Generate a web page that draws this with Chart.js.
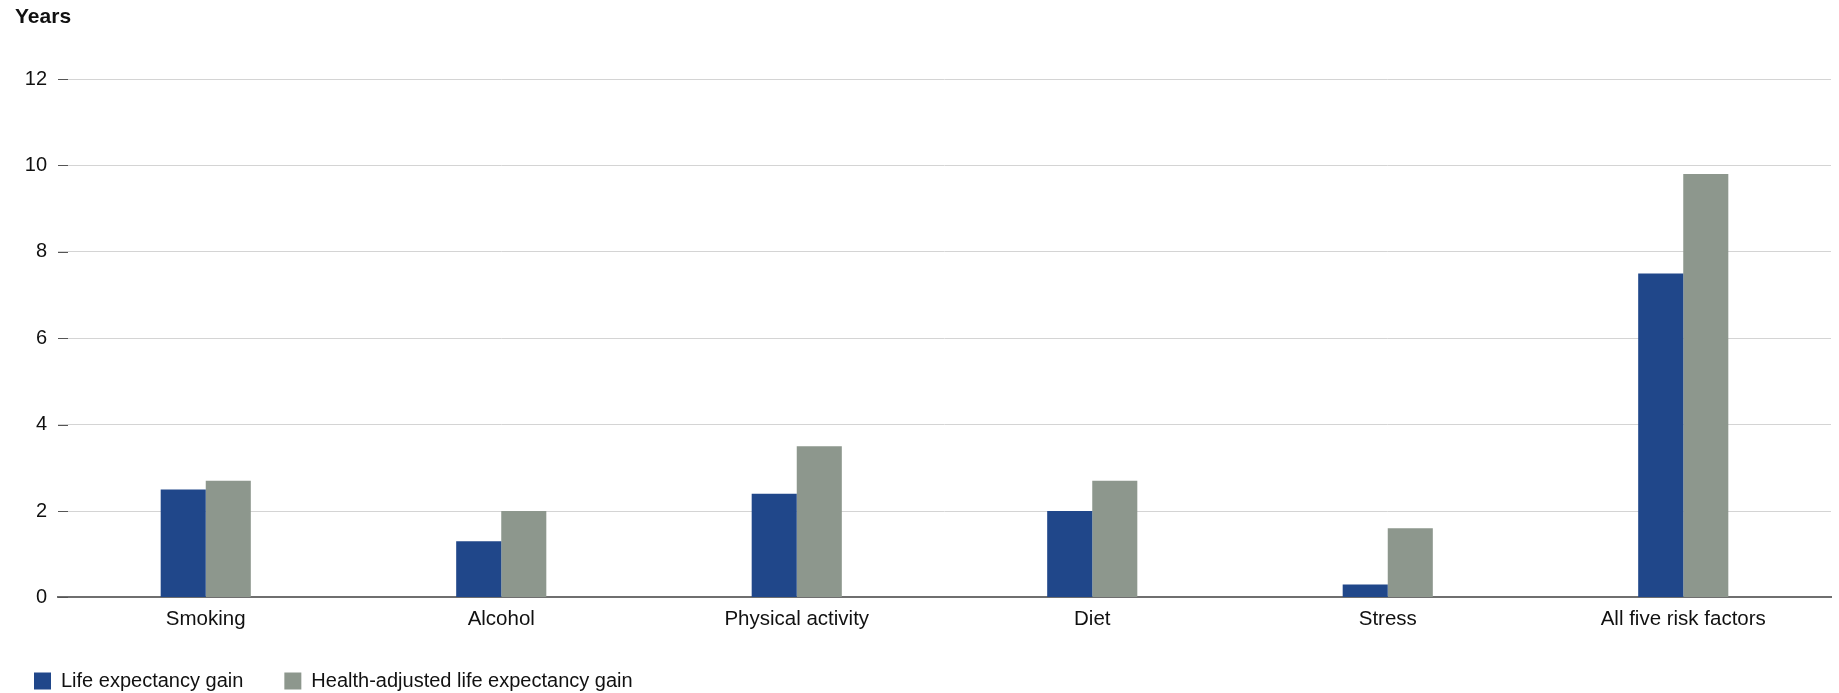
<!DOCTYPE html>
<html lang="en">
<head>
    <meta charset="UTF-8">
    <title>Life expectancy gain by risk factor</title>
    <script src="https://cdn.jsdelivr.net/npm/chart.js"></script>
    <style>
        body { margin: 0; background: #fff; }
        #wrap { width: 1839px; height: 693px; position: relative; }
    </style>
</head>
<body>
<div id="wrap"><canvas id="chart"></canvas></div>

<script>
    const categories = ['Smoking', 'Alcohol', 'Physical activity', 'Diet', 'Stress', 'All five risk factors'];
    const lifeGain = [2.5, 1.3, 2.4, 2.0, 0.3, 7.5];
    const healthAdjustedGain = [2.7, 2.0, 3.5, 2.7, 1.6, 9.8];
    const yTicks = [0, 2, 4, 6, 8, 10, 12];
    const yUnit = 'Years';

    const FONT = '"Liberation Sans", Arial, Helvetica, sans-serif';

    // "Years" above the y axis + short dark dashes at the start of each gridline
    const axisExtras = {
        id: 'axisExtras',
        afterDraw(chart) {
            const ctx = chart.ctx;
            const y = chart.scales.y;
            const left = chart.chartArea.left;
            ctx.save();
            ctx.strokeStyle = '#555';
            ctx.lineWidth = 1;
            yTicks.forEach(v => {
                const py = Math.round(y.getPixelForValue(v)) + 0.5;
                ctx.beginPath();
                ctx.moveTo(left, py);
                ctx.lineTo(left + 10, py);
                ctx.stroke();
            });
            ctx.fillStyle = '#111';
            ctx.font = 'bold 21px ' + FONT;
            ctx.textBaseline = 'top';
            ctx.textAlign = 'left';
            ctx.fillText(yUnit, 15, 7);
            ctx.restore();
        }
    };

    new Chart(document.getElementById('chart'), {
        type: 'bar',
        data: {
            labels: categories,
            datasets: [{
                label: 'Life expectancy gain',
                data: lifeGain,
                backgroundColor: '#20478a',
                categoryPercentage: 0.305,
                barPercentage: 1.0
            }, {
                label: 'Health-adjusted life expectancy gain',
                data: healthAdjustedGain,
                backgroundColor: '#8d978d',
                categoryPercentage: 0.305,
                barPercentage: 1.0
            }]
        },
        options: {
            responsive: true,
            maintainAspectRatio: false,
            animation: false,
            layout: { padding: { top: 79, right: 8, left: -7, bottom: -8 } },
            scales: {
                x: {
                    afterFit(scale) { scale.height -= 4; },
                    grid: { display: false },
                    border: { display: true, color: '#6f6f6f', width: 2 },
                    ticks: { color: '#111', font: { family: FONT, size: 20.5 }, padding: 2 }
                },
                y: {
                    min: 0,
                    max: 12,
                    afterFit(scale) { scale.width = 65; },
                    afterBuildTicks(scale) { scale.ticks = yTicks.map(v => ({ value: v })); },
                    grid: { color: '#d4d4d4', lineWidth: 1, drawTicks: false },
                    border: { display: false },
                    ticks: { color: '#111', font: { family: FONT, size: 20 }, padding: 11 }
                }
            },
            plugins: {
                legend: {
                    position: 'bottom',
                    align: 'start',
                    labels: {
                        color: '#111',
                        font: { family: FONT, size: 20 },
                        boxWidth: 17,
                        boxHeight: 17,
                        padding: 41
                    }
                },
                tooltip: { enabled: false }
            }
        },
        plugins: [axisExtras]
    });
</script>
</body>
</html>
